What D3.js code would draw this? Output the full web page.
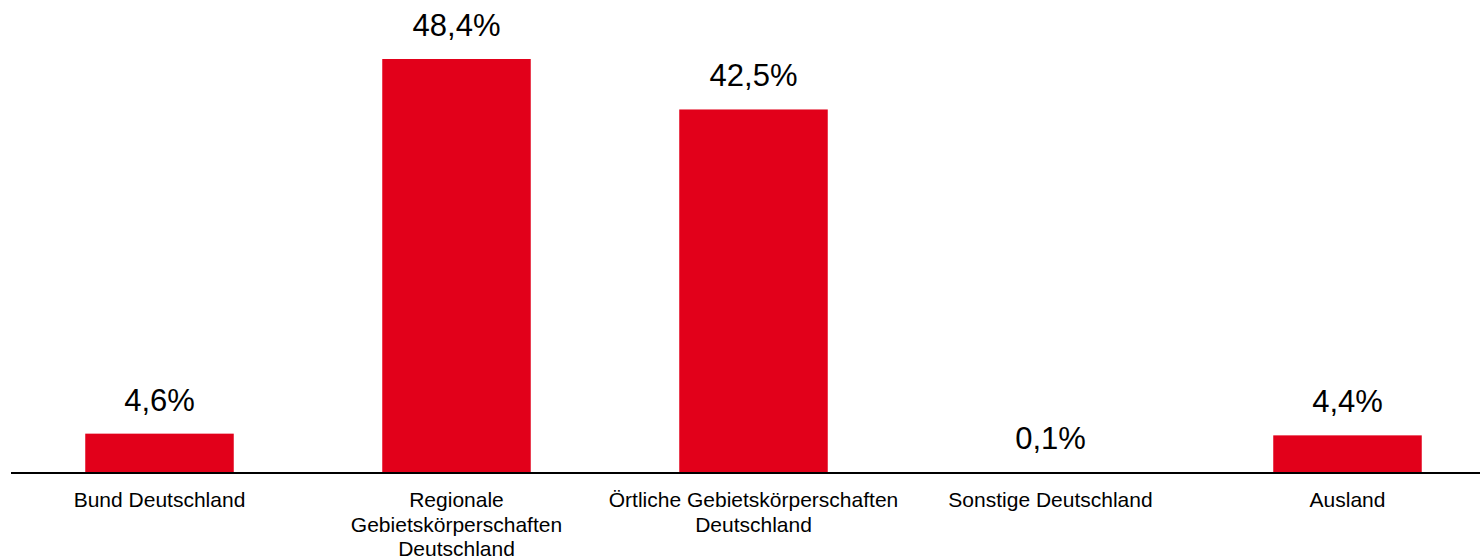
<!DOCTYPE html>
<html>
<head>
<meta charset="utf-8">
<script src="https://cdn.jsdelivr.net/npm/d3@7"></script>
<style>
  body { margin: 0; background: #fff; }
  svg text { font-family: "Liberation Sans", Arial, sans-serif; fill: #000; }
</style>
</head>
<body>
<svg id="chart" width="1480" height="556"></svg>
<script>
// data
var categories = ["Bund Deutschland", "Regionale Gebietskörperschaften Deutschland",
  "Örtliche Gebietskörperschaften Deutschland", "Sonstige Deutschland", "Ausland"];
var labelLines = [["Bund Deutschland"], ["Regionale", "Gebietskörperschaften", "Deutschland"],
  ["Örtliche Gebietskörperschaften", "Deutschland"], ["Sonstige Deutschland"], ["Ausland"]];
var values = [4.6, 48.4, 42.5, 0.1, 4.4];

var svg = d3.select("#chart"),
    baseY = 473;

var x = d3.scaleBand()
    .domain(categories)
    .range([11, 1496])
    .paddingInner(0.5)
    .paddingOuter(0.25);

var y = d3.scaleLinear()
    .domain([0, 48.4])
    .range([baseY, 59]);

var fmt = function(v) { return d3.format(".1f")(v).replace(".", ",") + "%"; };

svg.selectAll(".bar")
  .data(values)
  .enter().append("rect")
    .attr("class", "bar")
    .attr("x", function(d, i) { return x(categories[i]); })
    .attr("width", x.bandwidth())
    .attr("y", function(d) { return y(d); })
    .attr("height", function(d) { return baseY - y(d); })
    .attr("fill", "#e2001a");

// axis line
svg.append("line")
    .attr("x1", 11).attr("x2", 1480)
    .attr("y1", baseY).attr("y2", baseY)
    .attr("stroke", "#000").attr("stroke-width", 2);

svg.selectAll(".val")
  .data(values)
  .enter().append("text")
    .attr("class", "val")
    .attr("x", function(d, i) { return x(categories[i]) + x.bandwidth() / 2; })
    .attr("y", function(d) { return y(d) - 23; })
    .attr("text-anchor", "middle")
    .style("font-size", "31px")
    .text(fmt);

var cat = svg.selectAll(".cat")
  .data(labelLines)
  .enter().append("text")
    .attr("class", "cat")
    .attr("text-anchor", "middle")
    .style("font-size", "21px");

cat.selectAll("tspan")
  .data(function(d, i) { return d.map(function(t) { return { t: t, i: i }; }); })
  .enter().append("tspan")
    .attr("x", function(d) { return x(categories[d.i]) + x.bandwidth() / 2; })
    .attr("y", function(d, j) { return 507 + j * 24.5; })
    .text(function(d) { return d.t; });
</script>
</body>
</html>
